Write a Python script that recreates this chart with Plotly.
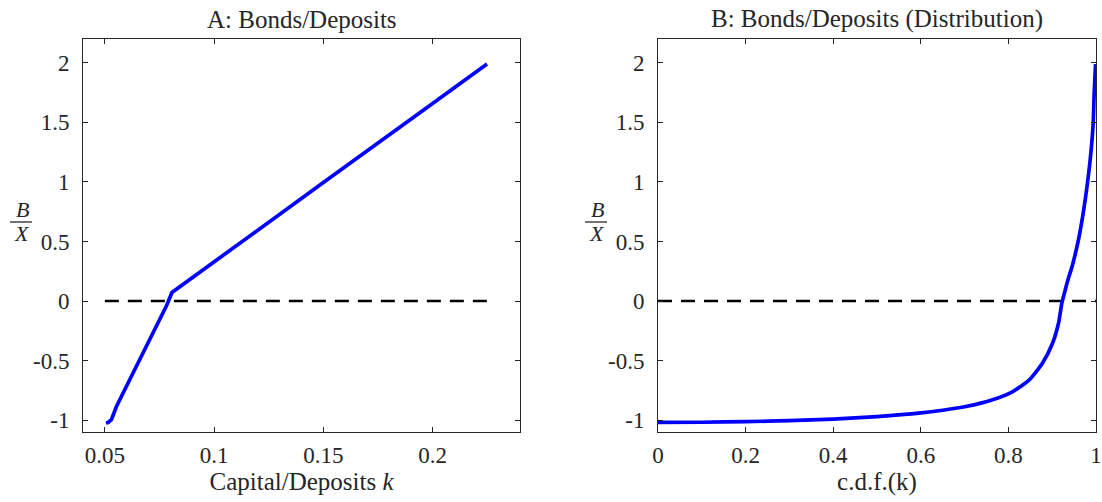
import plotly.graph_objects as go

# ---------------- data ----------------
k_vals = [0.0505, 0.0515, 0.0530, 0.0553, 0.0629, 0.0705, 0.0781, 0.0807,
          0.0888, 0.1000, 0.1500, 0.2000, 0.2249]
bx_vals = [-1.025, -1.020, -0.997, -0.886, -0.605, -0.325, -0.045, 0.072,
           0.179, 0.330, 0.994, 1.659, 1.990]

cdf_vals = [0.0, 0.1, 0.2, 0.3, 0.4, 0.5, 0.6, 0.65, 0.703, 0.764,
            0.810, 0.848, 0.878, 0.901, 0.9145, 0.922, 0.928, 0.935, 0.9465,
            0.960, 0.9708, 0.9806, 0.9883, 0.9936, 0.9959, 0.9990]
bx_dist = [-1.020, -1.018, -1.013, -1.005, -0.992, -0.971, -0.940, -0.917,
           -0.886, -0.829, -0.760, -0.661, -0.521, -0.353, -0.185,
           -0.017, 0.067, 0.165, 0.305, 0.515, 0.739, 0.992, 1.244, 1.496,
           1.748, 1.990]

zero_k = [0.05, 0.225]
zero_cdf = [0.0, 1.0]
zero_y = [0.0, 0.0]

y_ticks = [-1, -0.5, 0, 0.5, 1, 1.5, 2]
y_ticktext = ["-1", "-0.5", "0", "0.5", "1", "1.5", "2"]
xA_ticks = [0.05, 0.1, 0.15, 0.2]
xA_ticktext = ["0.05", "0.1", "0.15", "0.2"]
xB_ticks = [0, 0.2, 0.4, 0.6, 0.8, 1]
xB_ticktext = ["0", "0.2", "0.4", "0.6", "0.8", "1"]

titles = ["A: Bonds/Deposits", "B: Bonds/Deposits (Distribution)"]
xlabels = ["Capital/Deposits <i>k</i>", "c.d.f.(k)"]

# ---------------- style ----------------
W, H = 1102, 502
ML, MR, MT, MB = 83, 6, 39, 70
PW, PH = W - ML - MR, H - MT - MB
FONT = "Liberation Serif"
AX = "#262626"
BLUE = "#0000FF"


def px(x):
    return (x - ML) / PW


def py(y):
    return (H - MB - y) / PH


domA = [0, px(520)]
domB = [px(658), 1]

fig = go.Figure()
fig.add_trace(go.Scatter(x=zero_k, y=zero_y, mode="lines",
                         line=dict(color="black", width=2.5, dash="14px,9px"),
                         xaxis="x", yaxis="y", showlegend=False))
fig.add_trace(go.Scatter(x=k_vals, y=bx_vals, mode="lines",
                         line=dict(color=BLUE, width=3.7),
                         xaxis="x", yaxis="y", showlegend=False))
fig.add_trace(go.Scatter(x=zero_cdf, y=zero_y, mode="lines",
                         line=dict(color="black", width=2.5, dash="14px,9px"),
                         xaxis="x2", yaxis="y2", showlegend=False))
fig.add_trace(go.Scatter(x=cdf_vals, y=bx_dist, mode="lines",
                         line=dict(color=BLUE, width=3.7, shape="spline", smoothing=0.6),
                         xaxis="x2", yaxis="y2", showlegend=False))

axis_common = dict(showline=True, linecolor=AX, linewidth=1, mirror="ticks",
                   ticks="inside", ticklen=5, tickcolor=AX, tickwidth=1,
                   showgrid=False, zeroline=False,
                   tickfont=dict(family=FONT, size=23, color=AX))

fig.update_layout(
    width=W, height=H,
    margin=dict(l=ML, r=MR, t=MT, b=MB, autoexpand=False),
    paper_bgcolor="white", plot_bgcolor="white",
    xaxis=dict(domain=domA, range=[0.04, 0.24], tickvals=xA_ticks,
               ticktext=xA_ticktext, anchor="y", ticklabelstandoff=2,
               title=dict(text=xlabels[0], font=dict(family=FONT, size=25, color=AX),
                          standoff=3),
               **axis_common),
    yaxis=dict(domain=[0, 1], range=[-1.1, 2.2], tickvals=y_ticks,
               ticktext=y_ticktext, anchor="x", ticklabelstandoff=8,
               **axis_common),
    xaxis2=dict(domain=domB, range=[0, 1], tickvals=xB_ticks,
                ticktext=xB_ticktext, anchor="y2", ticklabelstandoff=2,
                title=dict(text=xlabels[1], font=dict(family=FONT, size=25, color=AX),
                           standoff=3),
                **axis_common),
    yaxis2=dict(domain=[0, 1], range=[-1.1, 2.2], tickvals=y_ticks,
                ticktext=y_ticktext, anchor="x2", ticklabelstandoff=8,
                **axis_common),
)

annotations = []
shapes = []
for dom, title in zip([domA, domB], titles):
    annotations.append(dict(text=title, x=(dom[0] + dom[1]) / 2, y=1,
                            xref="paper", yref="paper", xanchor="center",
                            yanchor="bottom", yshift=4, showarrow=False,
                            font=dict(family=FONT, size=25, color=AX)))
for cx in [22, 22 + 575]:
    annotations.append(dict(text="<i>B</i>", x=px(cx), y=py(210), xref="paper",
                            yref="paper", xanchor="center", yanchor="middle",
                            showarrow=False, font=dict(family=FONT, size=22, color=AX)))
    annotations.append(dict(text="<i>X</i>", x=px(cx), y=py(233), xref="paper",
                            yref="paper", xanchor="center", yanchor="middle",
                            showarrow=False, font=dict(family=FONT, size=22, color=AX)))
    shapes.append(dict(type="line", xref="paper", yref="paper",
                       x0=px(cx - 12), x1=px(cx + 10), y0=py(222), y1=py(222),
                       line=dict(color=AX, width=1.3)))

fig.update_layout(annotations=annotations, shapes=shapes)
fig.write_html("out.html", config={"displayModeBar": False},
               post_script="document.body.style.margin='0px';")
